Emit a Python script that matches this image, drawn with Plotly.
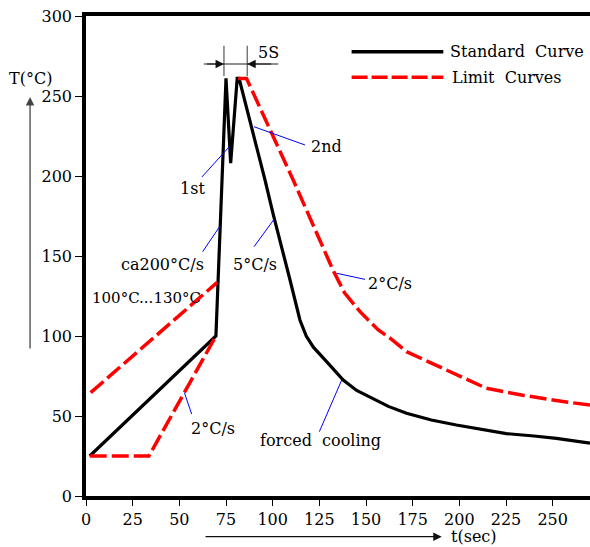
import plotly.graph_objects as go

# ---- data ----
t_std = [2, 69.6, 75, 77.5, 81, 82, 95.9, 100.3, 109.3, 114.6, 118, 121.8, 128.9, 137.8, 145, 153.9,
         162, 171.7, 185, 198.4, 212, 225.2, 240, 252, 270]
T_std = [25, 100, 261, 208, 261, 261, 197.5, 176, 135, 110, 100, 93, 84, 72.5, 66, 60.5,
         56, 51.7, 47.5, 44.4, 41.5, 39, 37.5, 36, 33]

t_lim_up_heat = [2.5, 70.3]
T_lim_up_heat = [64.6, 133.5]

t_lim_low_heat = [2, 33.7, 69.6]
T_lim_low_heat = [25, 25, 100]

t_lim_cool = [81.5, 86, 111, 132.4, 138.5, 146.8, 156.6, 162.9, 171.7, 185, 198.4, 214.5, 234, 255.5, 270]
T_lim_cool = [261, 261, 197.5, 141, 127, 115.2, 103.75, 98.6, 90.2, 83, 75.6, 67.3, 63, 59, 56.9]

x_ticks = [0, 25, 50, 75, 100, 125, 150, 175, 200, 225, 250]
y_ticks = [0, 50, 100, 150, 200, 250, 300]

FONT = "DejaVu Serif"
RED = "#ff0000"
BLUE = "#0000ff"
DASH = "17px,5px"

fig = go.Figure()
fig.add_trace(go.Scatter(x=t_std, y=T_std, mode="lines",
                         line=dict(color="black", width=3.2), name="Standard Curve"))
for tx, ty in [(t_lim_up_heat, T_lim_up_heat), (t_lim_low_heat, T_lim_low_heat), (t_lim_cool, T_lim_cool)]:
    fig.add_trace(go.Scatter(x=tx, y=ty, mode="lines",
                             line=dict(color=RED, width=3.5, dash=DASH), name="Limit Curves"))

shapes = []
# blue leader lines
leaders = [
    ((62.1, 199.4), (76.6, 218.1)),
    ((90, 230.8), (117.3, 219.4)),
    ((62.5, 152.7), (71.8, 168.75)),
    ((90, 155.8), (100.7, 172.9)),
    ((134.3, 139.2), (149.5, 135.4)),
    ((52.7, 64.6), (56.6, 51.25)),
    ((125, 40.2), (137, 72.5)),
]
for (x0, y0), (x1, y1) in leaders:
    shapes.append(dict(type="line", xref="x", yref="y", x0=x0, y0=y0, x1=x1, y1=y1,
                       line=dict(color=BLUE, width=1)))
# dimension lines (5S)
for xv in [73.9, 86.4]:
    shapes.append(dict(type="line", xref="x", yref="y", x0=xv, x1=xv, y0=262.5, y1=281.4,
                       line=dict(color="#777777", width=1.5)))
shapes.append(dict(type="line", xref="x", yref="y", x0=63.1, x1=103, y0=270, y1=270,
                   line=dict(color="#222222", width=1.2)))
# legend samples
shapes.append(dict(type="line", xref="paper", yref="paper", x0=0.527, x1=0.709, y0=0.9256, y1=0.9256,
                   line=dict(color="black", width=3.5)))
shapes.append(dict(type="line", xref="paper", yref="paper", x0=0.527, x1=0.709, y0=0.8723, y1=0.8723,
                   line=dict(color=RED, width=3.5, dash="16px,4px")))

ann = []
def txt(x, y, s, xref="x", yref="y", size=16, xanchor="center"):
    ann.append(dict(x=x, y=y, xref=xref, yref=yref, text=s, showarrow=False,
                    font=dict(family=FONT, size=size, color="black"), xanchor=xanchor, yanchor="middle"))

txt(56.8, 191.9, "1st")
txt(128.9, 218.3, "2nd")
txt(41.2, 144.4, "ca200°C/s")
txt(90.5, 144.4, "5°C/s")
txt(163.1, 132.9, "2°C/s")
txt(2.0, 123.6, "100°C...130°C", size=15, xanchor="left")
txt(67.8, 42.3, "2°C/s")
txt(125.6, 35, "forced&nbsp;&nbsp;cooling")
txt(98, 277, "5S")
txt(0.7177, 0.9256, "Standard&nbsp;&nbsp;Curve", xref="paper", yref="paper", xanchor="left")
txt(0.722, 0.8723, "Limit&nbsp;&nbsp;Curves", xref="paper", yref="paper", xanchor="left")
txt(-0.110, 0.869, "T(°C)", xref="paper", yref="paper")
txt(0.770, -0.0854, "t(sec)", xref="paper", yref="paper")

# axis arrows
ann.append(dict(x=-0.111, y=0.831, xref="paper", yref="paper", ax=0, ay=253, text="",
                showarrow=True, arrowhead=2, arrowsize=1.3, arrowwidth=1.3, arrowcolor="#444444"))
ann.append(dict(x=0.7058, y=-0.0848, xref="paper", yref="paper", ax=-237.7, ay=0, text="",
                showarrow=True, arrowhead=2, arrowsize=1.3, arrowwidth=1.3, arrowcolor="#111111"))
# dimension arrowheads
ann.append(dict(x=73.9, y=270, xref="x", yref="y", axref="x", ayref="y", ax=64, ay=270, text="",
                showarrow=True, arrowhead=2, arrowsize=1.4, arrowwidth=1.2, arrowcolor="#111111"))
ann.append(dict(x=86.4, y=270, xref="x", yref="y", axref="x", ayref="y", ax=100, ay=270, text="",
                showarrow=True, arrowhead=2, arrowsize=1.4, arrowwidth=1.2, arrowcolor="#111111"))

fig.update_layout(
    width=590, height=547,
    margin=dict(l=86, r=0, t=16, b=51),
    paper_bgcolor="white", plot_bgcolor="white",
    showlegend=False,
    shapes=shapes, annotations=ann,
    font=dict(family=FONT, size=16, color="black"),
)
fig.update_xaxes(range=[0, 270], tickvals=x_ticks, ticktext=[str(v) for v in x_ticks],
                 showgrid=False, zeroline=False, showline=True, linecolor="black", linewidth=3.5,
                 mirror=True, ticks="outside", ticklen=6, tickwidth=1, tickcolor="black",
                 tickfont=dict(family=FONT, size=16, color="black"))
fig.update_yaxes(range=[0, 300], tickvals=y_ticks, ticktext=[str(v) for v in y_ticks],
                 showgrid=False, zeroline=False, showline=True, linecolor="black", linewidth=3.5,
                 mirror=False, ticks="outside", ticklen=7, tickwidth=1, tickcolor="black",
                 tickfont=dict(family=FONT, size=16, color="black"))

# remove the default 8px page margin so the figure sits at the window's corner
fig.write_html("out.html", config={"displayModeBar": False},
               post_script="document.body.style.margin='0';")
